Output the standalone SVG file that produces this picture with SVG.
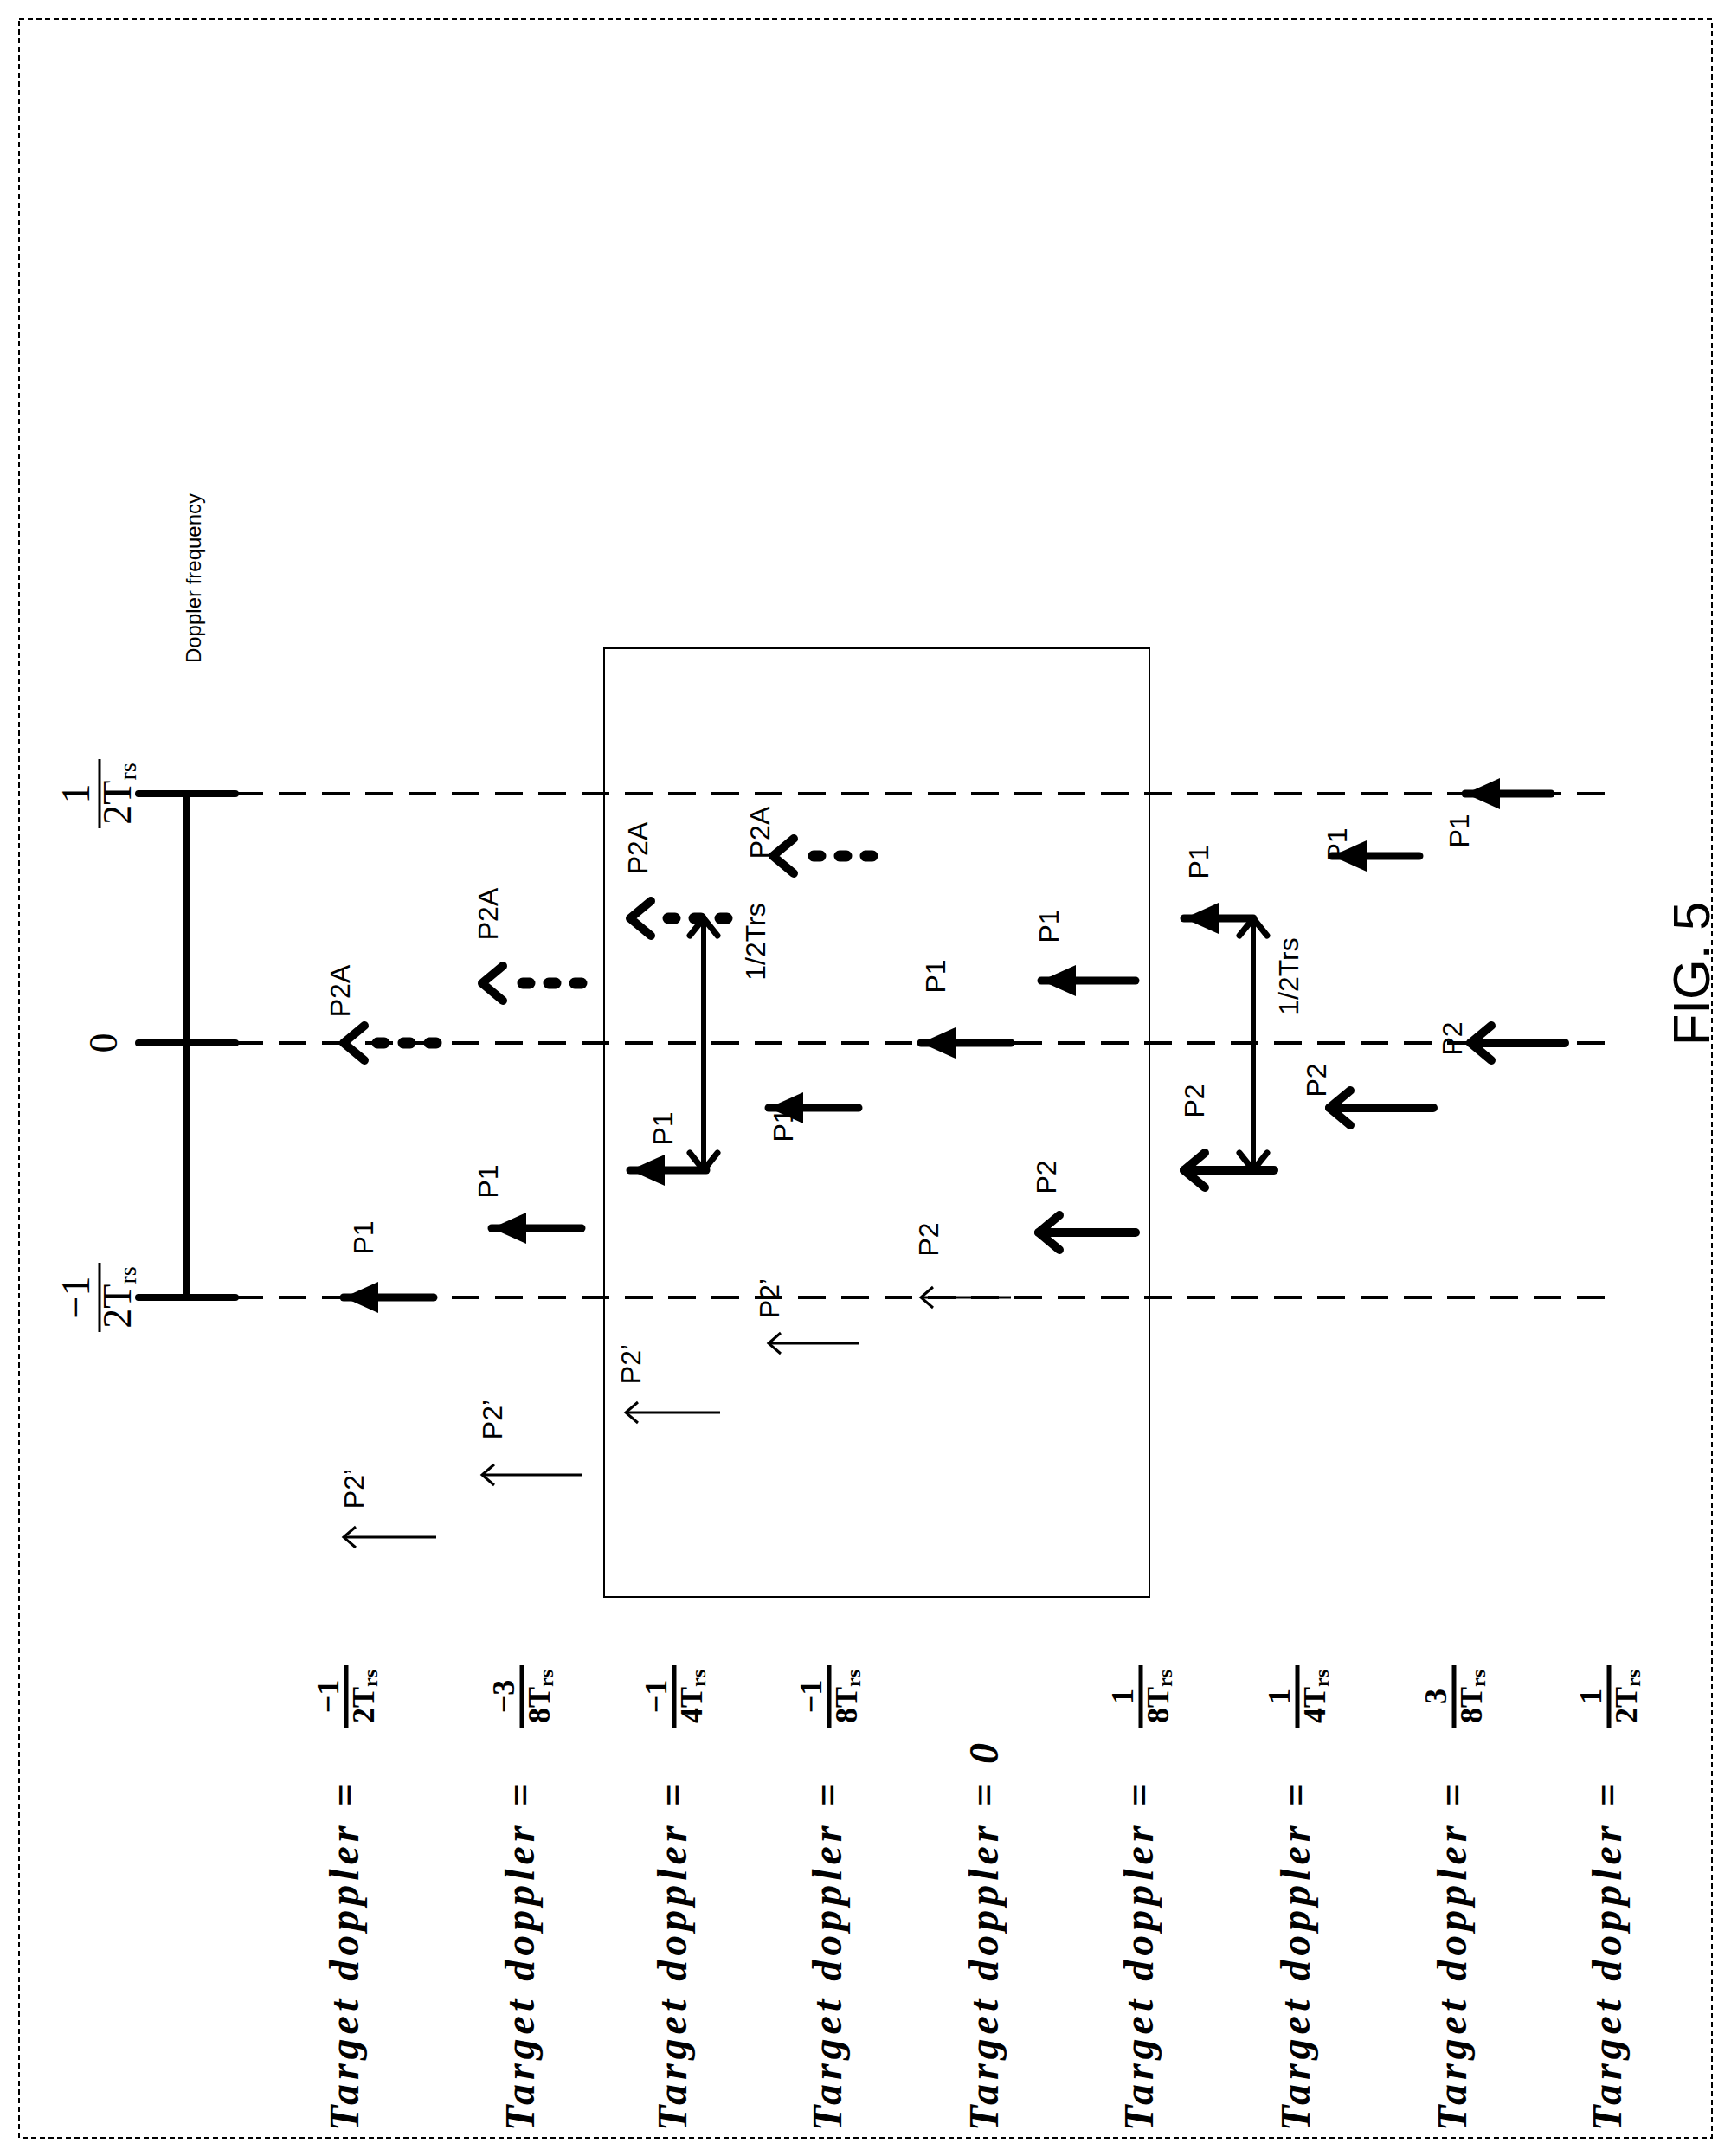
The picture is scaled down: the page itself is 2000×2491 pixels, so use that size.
<svg xmlns="http://www.w3.org/2000/svg" width="2000" height="2491" viewBox="0 0 2000 2491">
<style>
.lbl{font-family:"Liberation Sans",Arial,sans-serif;font-size:32px;fill:#000}
.td{font-family:"Liberation Serif","Times New Roman",serif;font-size:48px;font-weight:bold;font-style:italic;letter-spacing:5px;fill:#000}
.fr{font-family:"Liberation Serif","Times New Roman",serif;font-size:36px;font-weight:bold;fill:#000}
.ax{font-family:"Liberation Serif","Times New Roman",serif;font-size:46px;fill:#000}
.solid{stroke:#000;stroke-width:9;stroke-linecap:round;fill:none}
.bold{stroke:#000;stroke-width:10;stroke-linecap:round;fill:none}
.thin{stroke:#000;stroke-width:3;fill:none}
.dot{stroke:#000;stroke-width:13;stroke-linecap:round;stroke-dasharray:8 22;fill:none}
.dash{stroke:#000;stroke-width:4;stroke-dasharray:32 18;fill:none}
</style>
<defs>
<marker id="mf" markerUnits="userSpaceOnUse" viewBox="0 0 44 44" markerWidth="44" markerHeight="44" refX="40" refY="22" orient="auto"><path d="M0,4 L40,22 L0,40 z" fill="#000"/></marker>
<marker id="mb" markerUnits="userSpaceOnUse" viewBox="-10 -10 64 64" markerWidth="64" markerHeight="64" refX="40" refY="22" orient="auto"><path d="M16,2 L40,22 L16,42" fill="none" stroke="#000" stroke-width="10" stroke-linecap="round" stroke-linejoin="round"/></marker>
<marker id="md" markerUnits="userSpaceOnUse" viewBox="-10 -10 64 64" markerWidth="64" markerHeight="64" refX="40" refY="22" orient="auto-start-reverse"><path d="M20,6 L40,22 L20,38" fill="none" stroke="#000" stroke-width="7" stroke-linecap="round" stroke-linejoin="round"/></marker>
<marker id="mt" markerUnits="userSpaceOnUse" viewBox="0 0 44 44" markerWidth="44" markerHeight="44" refX="40" refY="22" orient="auto"><path d="M26,10 L40,22 L26,34" fill="none" stroke="#000" stroke-width="3"/></marker>
</defs>
<rect x="22" y="22" width="1956" height="2448" fill="none" stroke="#000" stroke-width="2" stroke-dasharray="6 4"/>
<g id="axis">
<line x1="216" y1="917" x2="216" y2="1499" stroke="#000" stroke-width="8"/>
<line x1="160" y1="917" x2="272" y2="917" stroke="#000" stroke-width="8" stroke-linecap="round"/>
<line x1="160" y1="1205" x2="272" y2="1205" stroke="#000" stroke-width="8" stroke-linecap="round"/>
<line x1="160" y1="1499" x2="272" y2="1499" stroke="#000" stroke-width="8" stroke-linecap="round"/>
<g transform="translate(115,1499) rotate(-90)"><text class="ax" x="0" y="-12" text-anchor="middle">−1</text><line x1="-40" y1="0" x2="40" y2="0" stroke="#000" stroke-width="3"/><text class="ax" x="0" y="36" text-anchor="middle">2T<tspan font-size="28" dy="6">rs</tspan></text></g>
<text class="ax" x="0" y="0" transform="translate(135,1205) rotate(-90)" text-anchor="middle" font-size="56">0</text>
<g transform="translate(115,917) rotate(-90)"><text class="ax" x="0" y="-12" text-anchor="middle">1</text><line x1="-40" y1="0" x2="40" y2="0" stroke="#000" stroke-width="3"/><text class="ax" x="0" y="36" text-anchor="middle">2T<tspan font-size="28" dy="6">rs</tspan></text></g>
<text transform="translate(232,668) rotate(-90)" text-anchor="middle" font-family="Liberation Sans Narrow,Liberation Sans,sans-serif" font-size="24">Doppler frequency</text>
</g>
<rect id="box" x="698" y="749" width="630" height="1096" fill="none" stroke="#000" stroke-width="2"/>
<g id="grid">
<line class="dash" x1="272" y1="917" x2="1872" y2="917"/>
<line class="dash" x1="272" y1="1205" x2="1872" y2="1205"/>
<line class="dash" x1="272" y1="1499" x2="1872" y2="1499"/>
</g>
<g id="connectors">
<line class="solid" x1="501" y1="1499" x2="397" y2="1499" marker-end="url(#mf)"/>
<line class="dot" x1="504" y1="1205" x2="420" y2="1205"/><line x1="420" y1="1205" x2="397" y2="1205" stroke="none" marker-end="url(#mb)"/>
<line class="thin" x1="504" y1="1776" x2="397" y2="1776" marker-end="url(#mt)"/>
<line class="solid" x1="672" y1="1419" x2="568" y2="1419" marker-end="url(#mf)"/>
<line class="dot" x1="672" y1="1136" x2="582" y2="1136"/><line x1="580" y1="1136" x2="557" y2="1136" stroke="none" marker-end="url(#mb)"/>
<line class="thin" x1="672" y1="1704" x2="557" y2="1704" marker-end="url(#mt)"/>
<line class="solid" x1="816" y1="1352" x2="728" y2="1352" marker-end="url(#mf)"/>
<line class="dot" x1="840" y1="1061" x2="752" y2="1061"/><line x1="751" y1="1061" x2="728" y2="1061" stroke="none" marker-end="url(#mb)"/>
<line x1="813" y1="1061" x2="813" y2="1352" stroke="#000" stroke-width="6" marker-start="url(#md)" marker-end="url(#md)"/>
<line class="thin" x1="832" y1="1632" x2="723" y2="1632" marker-end="url(#mt)"/>
<line class="solid" x1="992" y1="1280" x2="888" y2="1280" marker-end="url(#mf)"/>
<line class="dot" x1="1008" y1="989" x2="918" y2="989"/><line x1="916" y1="989" x2="893" y2="989" stroke="none" marker-end="url(#mb)"/>
<line class="thin" x1="992" y1="1552" x2="888" y2="1552" marker-end="url(#mt)"/>
<line class="solid" x1="1168" y1="1205" x2="1064" y2="1205" marker-end="url(#mf)"/>
<line class="thin" x1="1168" y1="1499" x2="1064" y2="1499" marker-end="url(#mt)"/>
<line class="solid" x1="1312" y1="1133" x2="1203" y2="1133" marker-end="url(#mf)"/>
<line class="bold" x1="1312" y1="1424" x2="1200" y2="1424" marker-end="url(#mb)"/>
<line class="solid" x1="1448" y1="1061" x2="1368" y2="1061" marker-end="url(#mf)"/>
<line x1="1448" y1="1061" x2="1448" y2="1352" stroke="#000" stroke-width="6" marker-start="url(#md)" marker-end="url(#md)"/>
<line class="bold" x1="1472" y1="1352" x2="1368" y2="1352" marker-end="url(#mb)"/>
<line class="solid" x1="1640" y1="989" x2="1539" y2="989" marker-end="url(#mf)"/>
<line class="bold" x1="1656" y1="1280" x2="1536" y2="1280" marker-end="url(#mb)"/>
<line class="solid" x1="1792" y1="917" x2="1693" y2="917" marker-end="url(#mf)"/>
<line class="bold" x1="1808" y1="1205" x2="1699" y2="1205" marker-end="url(#mb)"/>
</g>
<g id="labels">
<text class="lbl" transform="translate(419,1430) rotate(-90)" text-anchor="middle" dy="12">P1</text>
<text class="lbl" transform="translate(392,1145) rotate(-90)" text-anchor="middle" dy="12">P2A</text>
<text class="lbl" transform="translate(408,1720) rotate(-90)" text-anchor="middle" dy="12">P2’</text>
<text class="lbl" transform="translate(563,1365) rotate(-90)" text-anchor="middle" dy="12">P1</text>
<text class="lbl" transform="translate(563,1056) rotate(-90)" text-anchor="middle" dy="12">P2A</text>
<text class="lbl" transform="translate(568,1640) rotate(-90)" text-anchor="middle" dy="12">P2’</text>
<text class="lbl" transform="translate(765,1304) rotate(-90)" text-anchor="middle" dy="12">P1</text>
<text class="lbl" transform="translate(872,1088) rotate(-90)" text-anchor="middle" dy="12">1/2Trs</text>
<text class="lbl" transform="translate(736,980) rotate(-90)" text-anchor="middle" dy="12">P2A</text>
<text class="lbl" transform="translate(728,1576) rotate(-90)" text-anchor="middle" dy="12">P2’</text>
<text class="lbl" transform="translate(904,1300) rotate(-90)" text-anchor="middle" dy="12">P1</text>
<text class="lbl" transform="translate(877,962) rotate(-90)" text-anchor="middle" dy="12">P2A</text>
<text class="lbl" transform="translate(888,1500) rotate(-90)" text-anchor="middle" dy="12">P2’</text>
<text class="lbl" transform="translate(1080,1128) rotate(-90)" text-anchor="middle" dy="12">P1</text>
<text class="lbl" transform="translate(1072,1432) rotate(-90)" text-anchor="middle" dy="12">P2</text>
<text class="lbl" transform="translate(1211,1070) rotate(-90)" text-anchor="middle" dy="12">P1</text>
<text class="lbl" transform="translate(1208,1360) rotate(-90)" text-anchor="middle" dy="12">P2</text>
<text class="lbl" transform="translate(1384,996) rotate(-90)" text-anchor="middle" dy="12">P1</text>
<text class="lbl" transform="translate(1488,1128) rotate(-90)" text-anchor="middle" dy="12">1/2Trs</text>
<text class="lbl" transform="translate(1379,1272) rotate(-90)" text-anchor="middle" dy="12">P2</text>
<text class="lbl" transform="translate(1544,976) rotate(-90)" text-anchor="middle" dy="12">P1</text>
<text class="lbl" transform="translate(1520,1248) rotate(-90)" text-anchor="middle" dy="12">P2</text>
<text class="lbl" transform="translate(1685,960) rotate(-90)" text-anchor="middle" dy="12">P1</text>
<text class="lbl" transform="translate(1677,1200) rotate(-90)" text-anchor="middle" dy="12">P2</text>
</g>
<g id="targets">
<text class="td" transform="translate(414,2462) rotate(-90)">Target doppler =</text>
<text class="td" transform="translate(617,2462) rotate(-90)">Target doppler =</text>
<text class="td" transform="translate(793,2462) rotate(-90)">Target doppler =</text>
<text class="td" transform="translate(972,2462) rotate(-90)">Target doppler =</text>
<text class="td" transform="translate(1153,2462) rotate(-90)">Target doppler = 0</text>
<text class="td" transform="translate(1332,2462) rotate(-90)">Target doppler =</text>
<text class="td" transform="translate(1513,2462) rotate(-90)">Target doppler =</text>
<text class="td" transform="translate(1694,2462) rotate(-90)">Target doppler =</text>
<text class="td" transform="translate(1873,2462) rotate(-90)">Target doppler =</text>
<g transform="translate(400,1960) rotate(-90)"><text class="fr" x="0" y="-9" text-anchor="middle">−1</text><line x1="-36" y1="0" x2="36" y2="0" stroke="#000" stroke-width="5"/><text class="fr" x="0" y="32" text-anchor="middle">2T<tspan font-size="24" dy="4">rs</tspan></text></g>
<g transform="translate(603,1960) rotate(-90)"><text class="fr" x="0" y="-9" text-anchor="middle">−3</text><line x1="-36" y1="0" x2="36" y2="0" stroke="#000" stroke-width="5"/><text class="fr" x="0" y="32" text-anchor="middle">8T<tspan font-size="24" dy="4">rs</tspan></text></g>
<g transform="translate(779,1960) rotate(-90)"><text class="fr" x="0" y="-9" text-anchor="middle">−1</text><line x1="-36" y1="0" x2="36" y2="0" stroke="#000" stroke-width="5"/><text class="fr" x="0" y="32" text-anchor="middle">4T<tspan font-size="24" dy="4">rs</tspan></text></g>
<g transform="translate(958,1960) rotate(-90)"><text class="fr" x="0" y="-9" text-anchor="middle">−1</text><line x1="-36" y1="0" x2="36" y2="0" stroke="#000" stroke-width="5"/><text class="fr" x="0" y="32" text-anchor="middle">8T<tspan font-size="24" dy="4">rs</tspan></text></g>
<g transform="translate(1318,1960) rotate(-90)"><text class="fr" x="0" y="-9" text-anchor="middle">1</text><line x1="-36" y1="0" x2="36" y2="0" stroke="#000" stroke-width="5"/><text class="fr" x="0" y="32" text-anchor="middle">8T<tspan font-size="24" dy="4">rs</tspan></text></g>
<g transform="translate(1499,1960) rotate(-90)"><text class="fr" x="0" y="-9" text-anchor="middle">1</text><line x1="-36" y1="0" x2="36" y2="0" stroke="#000" stroke-width="5"/><text class="fr" x="0" y="32" text-anchor="middle">4T<tspan font-size="24" dy="4">rs</tspan></text></g>
<g transform="translate(1680,1960) rotate(-90)"><text class="fr" x="0" y="-9" text-anchor="middle">3</text><line x1="-36" y1="0" x2="36" y2="0" stroke="#000" stroke-width="5"/><text class="fr" x="0" y="32" text-anchor="middle">8T<tspan font-size="24" dy="4">rs</tspan></text></g>
<g transform="translate(1859,1960) rotate(-90)"><text class="fr" x="0" y="-9" text-anchor="middle">1</text><line x1="-36" y1="0" x2="36" y2="0" stroke="#000" stroke-width="5"/><text class="fr" x="0" y="32" text-anchor="middle">2T<tspan font-size="24" dy="4">rs</tspan></text></g>
</g>
<text transform="translate(1975,1125) rotate(-90)" text-anchor="middle" font-family="Liberation Sans,Arial,sans-serif" font-size="60">FIG. 5</text>
</svg>
